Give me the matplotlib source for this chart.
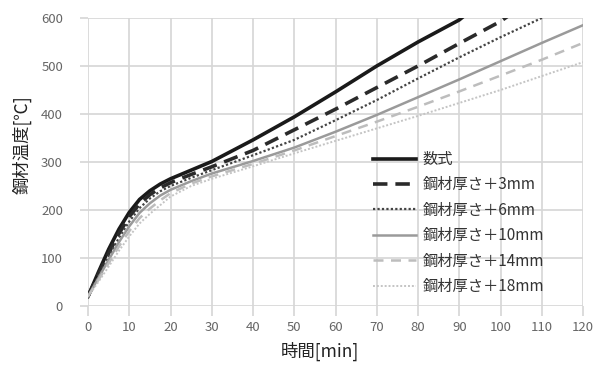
import matplotlib
matplotlib.use('Agg')
import matplotlib.pyplot as plt

plt.rcParams['font.family'] = ['Noto Sans CJK JP', 'DejaVu Sans']

# time [min] and steel temperature [C]
t_early = [0, 2.5, 5, 7.5, 10, 12.5, 15, 17.5, 20, 25, 30, 40, 50, 60, 70, 80, 90]

t_formula = t_early + [92]
T_formula = [20, 70, 118, 160, 195, 222, 240, 254, 265, 283, 301, 346, 394,
             446, 500, 550, 596, 610]

t_3mm = t_early + [100, 102]
T_3mm = [20, 66, 110, 151, 186, 213, 232, 246, 257, 274, 290, 324, 367,
         410, 455, 500, 547, 593, 605]

t_6mm = t_early + [100, 110, 112]
T_6mm = [20, 62, 103, 142, 176, 204, 224, 239, 250, 267, 283, 314, 346,
         387, 429, 474, 518, 560, 600, 610]

t_long = t_early + [100, 110, 120]
T_10mm = [20, 58, 96, 133, 166, 194, 214, 230, 242, 260, 276, 302, 330,
          363, 398, 435, 472, 510, 548, 585]
T_14mm = [20, 54, 89, 124, 156, 183, 203, 220, 235, 255, 270, 296, 324,
          354, 384, 415, 447, 480, 513, 548]
T_18mm = [20, 50, 82, 115, 145, 172, 192, 210, 228, 250, 265, 291, 318,
          344, 370, 396, 423, 450, 479, 508]

labels = ['数式', '鋼材厚さ＋3mm', '鋼材厚さ＋6mm', '鋼材厚さ＋10mm',
          '鋼材厚さ＋14mm', '鋼材厚さ＋18mm']

fig = plt.figure(figsize=(5.97, 3.65), dpi=100)
ax = fig.add_axes([88 / 597, 1 - 306 / 365, 495 / 597, 288 / 365])

ax.plot(t_formula, T_formula, color='#1a1a1a', lw=2.6, label=labels[0])
ax.plot(t_3mm, T_3mm, color='#2a2a2a', lw=2.6, dashes=(4, 2.2), label=labels[1])
ax.plot(t_6mm, T_6mm, color='#444444', lw=1.6, dashes=(1, 1), label=labels[2])
ax.plot(t_long, T_10mm, color='#9a9a9a', lw=1.8, label=labels[3])
ax.plot(t_long, T_14mm, color='#bdbdbd', lw=1.8, dashes=(4, 3), label=labels[4])
ax.plot(t_long, T_18mm, color='#c4c4c4', lw=1.4, dashes=(1, 1), label=labels[5])

ax.set_xlim(0, 120)
ax.set_ylim(0, 600)
ax.set_xticks(range(0, 121, 10))
ax.set_yticks(range(0, 601, 100))
ax.grid(True, color='#d6d6d6', lw=1.2)
ax.set_axisbelow(True)
for s in ax.spines.values():
  s.set_visible(False)
ax.tick_params(axis='x', length=7, width=1.2, color='#d6d6d6', labelsize=9.5,
               labelcolor='#666666', pad=4)
ax.tick_params(axis='y', length=6, width=1.2, color='#d6d6d6', labelsize=9.5,
               labelcolor='#666666', pad=12)

fig.text(22 / 597, 1 - 145 / 365, '鋼材温度[℃]', rotation=90, ha='center',
         va='center', fontsize=12.5, color='#222222')
fig.text(320 / 597, 1 - 351 / 365, '時間[min]', ha='center', va='center',
         fontsize=12.5, color='#222222')

ax.legend(loc='upper left', bbox_to_anchor=(373 / 597, 1 - 151 / 365),
          bbox_transform=fig.transFigure, frameon=False, fontsize=11,
          handlelength=2.8, handletextpad=0.45, labelspacing=0.55,
          borderpad=0, borderaxespad=0, labelcolor='#333333')

fig.savefig('out.png', dpi=100)
